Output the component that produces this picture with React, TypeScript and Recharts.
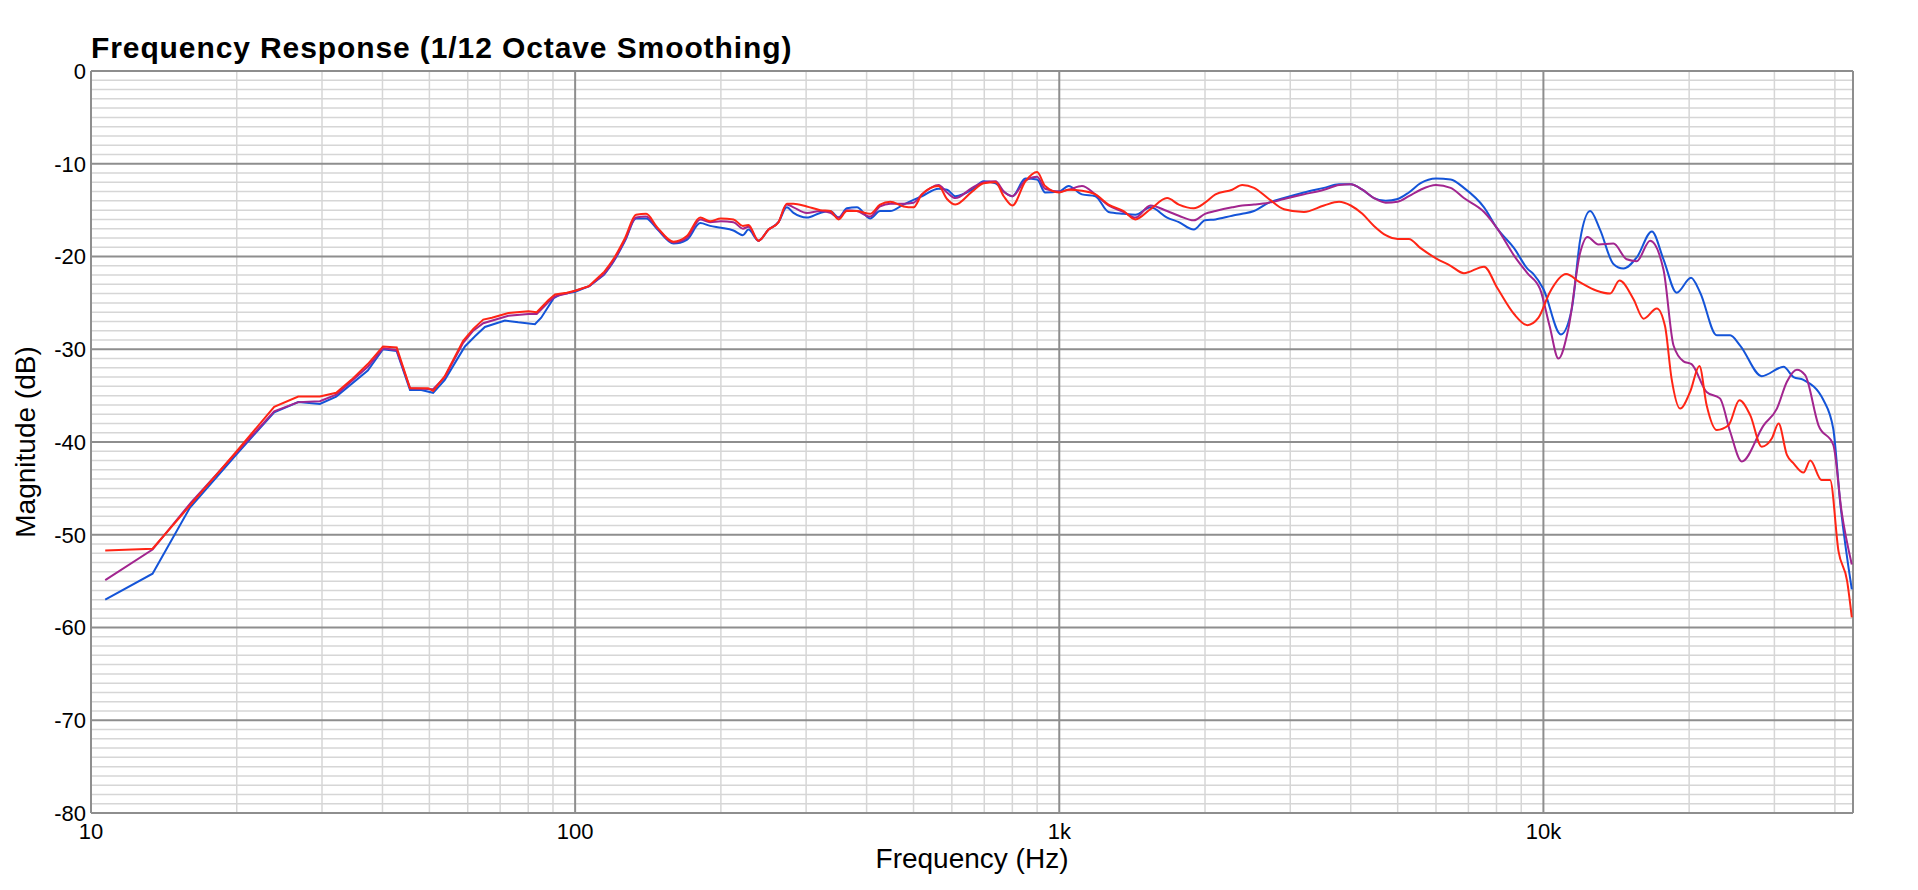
import React from 'react';
import { LineChart, Line, XAxis, YAxis, CartesianGrid, Label, ReferenceLine } from 'recharts';

// frequency axis ends a little past 40k
const X_MAX = 43600;
// below this the measurement is sparse and drawn as straight segments
const SPLIT_HZ = 114.6;

const majorHz = [10, 100, 1000, 10000, X_MAX];
const minorHz = [
    20, 30, 40, 50, 60, 70, 80, 90,
    200, 300, 400, 500, 600, 700, 800, 900,
    2000, 3000, 4000, 5000, 6000, 7000, 8000, 9000,
    20000, 30000, 40000,
];
const majorDb = [-80, -70, -60, -50, -40, -30, -20, -10, 0];
const minorDb = [
    -79, -78, -77, -76, -75, -74, -73, -72, -71,
    -69, -68, -67, -66, -65, -64, -63, -62, -61,
    -59, -58, -57, -56, -55, -54, -53, -52, -51,
    -49, -48, -47, -46, -45, -44, -43, -42, -41,
    -39, -38, -37, -36, -35, -34, -33, -32, -31,
    -29, -28, -27, -26, -25, -24, -23, -22, -21,
    -19, -18, -17, -16, -15, -14, -13, -12, -11,
    -9, -8, -7, -6, -5, -4, -3, -2, -1,
];

const blueHz = [
    10.7, 13.4, 16.0, 20, 23.9, 26.8, 29.7, 32.1, 37.3, 40.1, 42.8, 45.6, 48.1, 50.9, 53.8, 59.2,
    62.1, 65.1, 71.6, 76.3, 82.6, 85.1, 90.3, 93.1, 100, 107, 114.6, 119.9, 126.8, 133.6, 140.2,
    147.5, 159.7, 170.1, 181.3, 190, 200, 212.3, 222.1, 228, 239.2, 250.9, 263, 273.7, 282.5,
    300.9, 320.8, 336.6, 350.2, 364.1, 381.8, 406.7, 426.5, 447.6, 476.7, 500, 520.4, 563.2,
    586.3, 610.2, 660.4, 698.3, 738.4, 767.9, 800, 851.2, 900, 935.1, 1000, 1045, 1114, 1187,
    1264, 1358, 1436, 1543, 1670, 1766, 1896, 2000, 2102, 2276, 2387, 2525, 2710, 2911, 3202,
    3522, 3783, 4000, 4227, 4467, 4723, 5000, 5274, 5576, 6000, 6432, 6851, 7540, 8032, 8697,
    9265, 9540, 10000, 10870, 11440, 11910, 12490, 13090, 13950, 14630, 15590, 16750, 17700,
    18850, 20180, 21080, 22810, 24310, 25490, 28250, 31330, 32860, 34450, 37900, 39700, 41000,
    43350,
];
const blueDb = [
    -57.0, -54.2, -47.1, -41.3, -36.8, -35.7, -35.9, -35.1, -32.3, -30.0, -30.2, -34.4, -34.4,
    -34.7, -33.3, -29.7, -28.6, -27.6, -26.9, -27.1, -27.3, -26.6, -24.5, -24.1, -23.8, -23.2,
    -22.0, -20.6, -18.3, -15.9, -15.9, -17.0, -18.6, -18.2, -16.4, -16.7, -16.9, -17.2, -17.7,
    -17.1, -18.3, -17.1, -16.3, -14.7, -15.3, -15.8, -15.3, -15.1, -15.8, -14.8, -14.7, -15.9,
    -15.1, -15.1, -14.4, -13.9, -13.5, -12.7, -12.8, -13.5, -12.8, -11.9, -12.1, -13.0, -13.5,
    -11.6, -11.7, -13.1, -13.0, -12.4, -13.3, -13.5, -15.2, -15.4, -15.5, -14.7, -15.8, -16.3,
    -17.1, -16.1, -16.0, -15.6, -15.4, -15.1, -14.2, -13.7, -13.1, -12.6, -12.2, -12.2, -12.8,
    -13.7, -14.0, -13.8, -13.1, -12.1, -11.6, -11.7, -12.6, -14.7, -17.0, -19.1, -21.3, -21.9,
    -23.5, -28.4, -25.7, -18.2, -15.1, -17.1, -20.8, -21.3, -20.1, -17.3, -20.3, -23.9, -22.3,
    -23.9, -28.5, -28.5, -29.6, -32.9, -31.9, -33.0, -33.3, -35.5, -38.6, -46.4, -55.9,
];

const purpleHz = [
    10.7, 13.4, 16.1, 20, 23.9, 26.8, 29.7, 32.1, 37.3, 40.1, 42.8, 45.6, 50.9, 53.8, 58.7, 61.6,
    64.6, 72.8, 80.1, 83.3, 88.1, 90.9, 96.1, 100, 107, 114.6, 119.9, 126.8, 133.6, 140.2, 147.5,
    159.7, 170.1, 181.3, 190, 200, 212.3, 222.1, 228, 239.2, 250.9, 263, 273.7, 282.5, 300.9,
    320.8, 336.6, 350.2, 364.1, 381.8, 406.7, 426.5, 447.6, 476.7, 500, 520.4, 563.2, 586.3,
    610.2, 660.4, 698.3, 738.4, 767.9, 800, 851.2, 900, 935.1, 1000, 1045, 1114, 1187, 1264,
    1358, 1436, 1543, 1670, 1766, 1896, 2000, 2102, 2276, 2387, 2525, 2710, 2911, 3202, 3522,
    3783, 4000, 4227, 4467, 4723, 5000, 5274, 5576, 6000, 6432, 6851, 7540, 8032, 8697, 9265,
    9840, 10300, 10740, 11260, 11910, 12330, 12990, 13950, 14860, 15590, 16610, 17700, 18570,
    19470, 20230, 21730, 23150, 24310, 25690, 28500, 30360, 31840, 33380, 34730, 37000, 39700,
    41300, 43350,
];
const purpleDb = [
    -54.9, -51.6, -46.5, -41.1, -36.7, -35.7, -35.6, -34.9, -31.9, -29.9, -30.1, -34.2, -34.3,
    -33.0, -29.3, -28.0, -27.2, -26.4, -26.2, -26.2, -24.9, -24.3, -24.0, -23.7, -23.2, -21.9,
    -20.5, -18.2, -15.8, -15.7, -16.9, -18.5, -18.0, -16.0, -16.3, -16.2, -16.3, -17.0, -16.8,
    -18.3, -17.1, -16.3, -14.4, -14.7, -15.3, -15.1, -15.3, -15.8, -15.0, -15.1, -15.7, -14.6,
    -14.3, -14.3, -14.2, -13.3, -12.3, -13.1, -13.7, -12.6, -12.0, -11.9, -13.0, -13.5, -11.8,
    -11.4, -12.7, -13.0, -12.8, -12.4, -13.3, -14.5, -15.2, -15.8, -14.5, -15.1, -15.6, -16.1,
    -15.4, -15.1, -14.7, -14.5, -14.4, -14.2, -13.8, -13.3, -12.8, -12.3, -12.2, -12.8, -13.7,
    -14.2, -14.1, -13.5, -12.8, -12.3, -12.6, -13.7, -15.2, -17.0, -19.9, -21.8, -23.5, -27.5,
    -31.0, -27.8, -19.6, -17.9, -18.7, -18.6, -20.3, -20.5, -18.3, -21.4, -29.6, -31.3, -31.6,
    -34.6, -35.3, -38.9, -42.1, -38.2, -36.4, -33.5, -32.2, -32.8, -38.2, -40.3, -47.5, -53.2,
];

const redHz = [
    10.7, 13.4, 16.1, 20, 23.9, 26.8, 29.7, 32.1, 34.5, 37.3, 40.1, 42.8, 45.6, 49.7, 50.9, 53.8,
    58.7, 61.6, 64.6, 67.3, 72.8, 80.1, 83.3, 88.1, 90.9, 96.1, 100, 106.7, 114.6, 119.9, 126.8,
    133.6, 140.2, 147.5, 159.7, 170.1, 181.3, 190, 200, 212.3, 222.1, 228, 239.2, 250.9, 263,
    273.7, 282.5, 300.9, 320.8, 336.6, 350.2, 364.1, 381.8, 406.7, 426.5, 447.6, 476.7, 500,
    520.4, 563.2, 586.3, 610.2, 660.4, 698.3, 738.4, 767.9, 800, 851.2, 900, 935.1, 1000, 1045,
    1114, 1187, 1264, 1358, 1436, 1543, 1670, 1766, 1896, 2000, 2102, 2276, 2387, 2525, 2710,
    2911, 3202, 3522, 3783, 4000, 4227, 4467, 4723, 5000, 5274, 5576, 6000, 6432, 6851, 7540,
    8032, 8697, 9265, 9770, 10300, 11140, 11910, 12890, 13730, 14360, 15350, 16100, 17150,
    17830, 18400, 19160, 20090, 21000, 21730, 22810, 24110, 25400, 26740, 28250, 29650, 30600,
    31840, 32860, 34450, 35580, 37550, 39100, 40700, 42400, 43350,
];
const redDb = [
    -51.7, -51.5, -46.7, -41.0, -36.2, -35.1, -35.1, -34.7, -33.3, -31.6, -29.7, -29.8, -34.2,
    -34.2, -34.5, -32.9, -29.1, -27.8, -26.8, -26.6, -26.1, -25.9, -26.0, -24.7, -24.1, -23.9,
    -23.7, -23.2, -21.7, -20.3, -18.0, -15.5, -15.4, -16.8, -18.4, -17.8, -15.8, -16.2, -15.9,
    -16.0, -16.7, -16.6, -18.3, -17.1, -16.3, -14.3, -14.3, -14.6, -15.0, -15.1, -16.0, -15.1,
    -15.1, -15.4, -14.4, -14.1, -14.6, -14.7, -13.3, -12.4, -13.8, -14.4, -13.0, -12.1, -12.0,
    -13.5, -14.5, -11.9, -10.9, -12.4, -13.1, -12.8, -12.9, -13.3, -14.4, -15.1, -16.0, -14.9,
    -13.7, -14.4, -14.8, -14.2, -13.3, -12.8, -12.3, -12.6, -13.8, -14.9, -15.2, -14.5, -14.1,
    -14.5, -15.4, -16.7, -17.7, -18.1, -18.1, -19.1, -20.2, -21.0, -21.8, -21.1, -23.4, -26.2,
    -27.4, -26.6, -23.9, -21.9, -22.8, -23.7, -24.0, -22.6, -24.6, -26.7, -25.6, -27.5, -33.2,
    -36.4, -34.6, -31.8, -36.0, -38.7, -38.2, -35.5, -37.1, -40.5, -39.6, -38.0, -41.4, -42.3,
    -43.3, -42.0, -44.1, -44.1, -51.8, -55.0, -58.9,
];

const toPoints = (hz: number[], db: number[]) => hz.map((f, i) => ({ f, db: db[i] }));

const series = [
    { name: 'blue', color: '#1454d8', data: toPoints(blueHz, blueDb) },
    { name: 'purple', color: '#a2258f', data: toPoints(purpleHz, purpleDb) },
    { name: 'red', color: '#ff2515', data: toPoints(redHz, redDb) },
];

const FONT = '"Liberation Sans", Arial, Helvetica, sans-serif';

const formatHz = (v: number) => {
    if (v === X_MAX) return '';
    return v >= 1000 ? `${v / 1000}k` : String(v);
};

const XTitle = (props: any) => {
    const { viewBox } = props;
    const cx = viewBox.x + viewBox.width / 2;
    return (
        <text x={cx} y={860} textAnchor="middle" fontSize={28} fill="#000" fontFamily={FONT}>
            Frequency (Hz)
        </text>
    );
};

const YTitle = (props: any) => {
    const { viewBox } = props;
    const cy = viewBox.y + viewBox.height / 2;
    return (
        <text
            x={27}
            y={cy}
            transform={`rotate(-90, 27, ${cy})`}
            textAnchor="middle"
            fontSize={28}
            fill="#000"
            fontFamily={FONT}
        >
            Magnitude (dB)
        </text>
    );
};

const MINOR = '#d6d6d6';

export default function App() {
    return (
        <div style={{ position: 'relative', width: 1902, height: 874, fontFamily: FONT }}>
            <div
                style={{
                    position: 'absolute',
                    left: 83,
                    top: 25,
                    fontSize: 30,
                    lineHeight: '30px',
                    fontWeight: 'bold',
                    letterSpacing: 0.9,
                    color: '#000',
                    whiteSpace: 'nowrap',
                }}
            >
                Frequency Response (1/12 Octave Smoothing)
            </div>
            <LineChart width={1902} height={874} margin={{ top: 63, right: 57, bottom: 0, left: 0 }}>
                <XAxis
                    dataKey="f"
                    type="number"
                    scale="log"
                    domain={[10, X_MAX]}
                    ticks={majorHz}
                    tickFormatter={formatHz}
                    height={69}
                    axisLine={false}
                    tickLine={false}
                    tickSize={0}
                    tickMargin={10}
                    tick={{ fontSize: 22, fill: '#000' }}
                    interval={0}
                >
                    <Label content={XTitle} />
                </XAxis>
                <YAxis
                    type="number"
                    domain={[-80, 0]}
                    ticks={majorDb}
                    width={83}
                    axisLine={false}
                    tickLine={false}
                    tickSize={0}
                    tickMargin={5}
                    tick={{ fontSize: 22, fill: '#000' }}
                    interval={0}
                >
                    <Label content={YTitle} />
                </YAxis>
                {minorDb.map((v) => (
                    <ReferenceLine key={`my${v}`} y={v} stroke={MINOR} strokeWidth={1.5} zIndex={-150} />
                ))}
                {minorHz.map((v) => (
                    <ReferenceLine key={`mx${v}`} x={v} stroke={MINOR} strokeWidth={1.5} zIndex={-150} />
                ))}
                <CartesianGrid stroke="#8e8e8e" strokeWidth={2} />
                {series.map((s) => [
                    <Line
                        key={`${s.name}-low`}
                        data={s.data.filter((p) => p.f <= SPLIT_HZ)}
                        dataKey="db"
                        type="linear"
                        stroke={s.color}
                        strokeWidth={2}
                        dot={false}
                        isAnimationActive={false}
                    />,
                    <Line
                        key={`${s.name}-high`}
                        data={s.data.filter((p) => p.f >= SPLIT_HZ)}
                        dataKey="db"
                        type="monotone"
                        stroke={s.color}
                        strokeWidth={2}
                        dot={false}
                        isAnimationActive={false}
                    />,
                ])}
            </LineChart>
        </div>
    );
}
